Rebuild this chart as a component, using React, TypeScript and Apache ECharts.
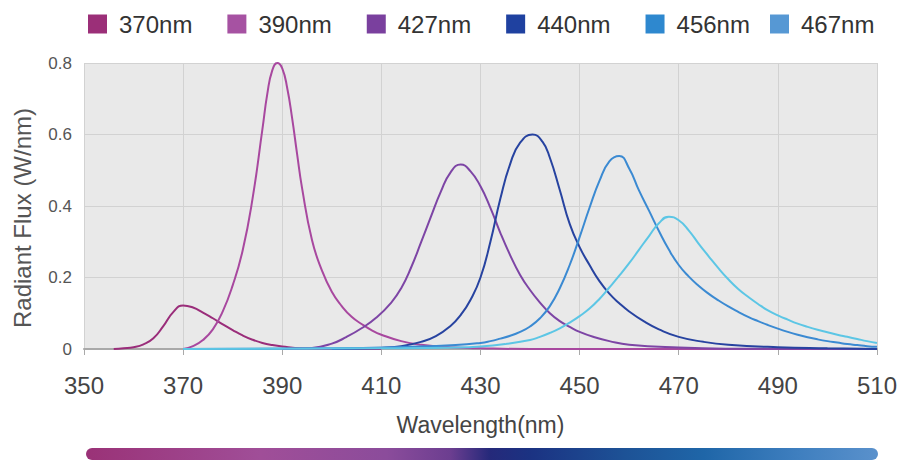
import React, { useEffect, useRef } from "react";
import * as echarts from "echarts";

const seriesNames = ["370nm", "390nm", "427nm", "440nm", "456nm", "467nm"];
const legendColors = ["#9b2f78", "#a652a2", "#7a409e", "#1f41a0", "#2e88cf", "#5698d4"];
const lineColors = ["#9a2d7a", "#a8489f", "#7d45a5", "#2743a0", "#3b8ad2", "#5cc6e5"];

const xTicks = [350, 370, 390, 410, 430, 450, 470, 490, 510];
const yTicks = [0, 0.2, 0.4, 0.6, 0.8];

const flux370: [number, number][] = [
  [356, 0], [358, 0.002], [360, 0.005], [362, 0.013], [364, 0.03], [366, 0.064],
  [368, 0.103], [370, 0.122], [372, 0.116], [374, 0.102], [376, 0.086], [378, 0.069],
  [380, 0.053], [382, 0.038], [384, 0.026], [386, 0.017], [388, 0.011], [390, 0.007],
  [394, 0.002], [400, 0], [410, 0],
];

const flux390: [number, number][] = [
  [370, 0], [372, 0.008], [374, 0.025], [376, 0.055], [378, 0.105], [380, 0.178],
  [382, 0.275], [384, 0.42], [386, 0.615], [387, 0.715], [388, 0.78], [389, 0.8],
  [390, 0.785], [391, 0.73], [392, 0.645], [393, 0.545], [394, 0.45], [396, 0.305],
  [398, 0.22], [400, 0.16], [402, 0.12], [404, 0.09], [406, 0.07], [408, 0.053],
  [410, 0.04], [414, 0.022], [418, 0.012], [424, 0.005], [430, 0.002], [440, 0],
  [510, 0],
];

const flux427: [number, number][] = [
  [390, 0], [396, 0.003], [400, 0.015], [403, 0.034], [406, 0.058], [409, 0.088],
  [412, 0.13], [414, 0.17], [416, 0.228], [418, 0.298], [420, 0.37], [422, 0.44],
  [424, 0.495], [426, 0.516], [428, 0.497], [430, 0.455], [432, 0.395], [434, 0.325],
  [436, 0.262], [438, 0.207], [440, 0.165], [442, 0.13], [444, 0.1], [446, 0.078],
  [448, 0.062], [450, 0.048], [453, 0.033], [456, 0.022], [460, 0.012], [470, 0.004],
  [480, 0.001], [510, 0],
];

const flux440: [number, number][] = [
  [400, 0], [410, 0.003], [414, 0.008], [418, 0.02], [421, 0.036], [424, 0.065],
  [426, 0.095], [428, 0.138], [430, 0.2], [432, 0.3], [434, 0.42], [436, 0.518],
  [438, 0.577], [440.5, 0.6], [442.5, 0.58], [444, 0.535], [446, 0.445], [448, 0.35],
  [450, 0.285], [452, 0.235], [454, 0.19], [456, 0.155], [458, 0.128], [460, 0.105],
  [463, 0.077], [466, 0.055], [470, 0.034], [475, 0.02], [480, 0.012], [490, 0.005],
  [500, 0.002], [510, 0],
];

const flux456: [number, number][] = [
  [370, 0], [400, 0.002], [415, 0.006], [425, 0.011], [430, 0.017], [432, 0.022],
  [434, 0.029], [436, 0.037], [438, 0.048], [440, 0.063], [442, 0.086], [444, 0.12],
  [446, 0.17], [448, 0.235], [450, 0.313], [452, 0.395], [454, 0.47], [456, 0.525],
  [458, 0.54], [460, 0.505], [462, 0.443], [464, 0.387], [466, 0.33], [468, 0.278],
  [470, 0.235], [472, 0.203], [474, 0.177], [476, 0.155], [478, 0.136], [480, 0.119],
  [482, 0.104], [484, 0.09], [486, 0.078], [488, 0.067], [490, 0.057], [492, 0.048],
  [494, 0.04], [496, 0.033], [498, 0.027], [500, 0.022], [502, 0.018], [504, 0.014],
  [506, 0.011], [508, 0.008], [510, 0.006],
];

const flux467: [number, number][] = [
  [370, 0], [410, 0.002], [425, 0.004], [430, 0.007], [435, 0.014], [440, 0.025],
  [442, 0.034], [444, 0.045], [446, 0.058], [448, 0.074], [450, 0.092], [452, 0.113],
  [454, 0.14], [456, 0.172], [458, 0.205], [460, 0.24], [462, 0.278], [464, 0.316],
  [466, 0.352], [468, 0.37], [470, 0.36], [472, 0.332], [474, 0.295], [476, 0.26],
  [478, 0.226], [480, 0.195], [482, 0.168], [484, 0.146], [486, 0.126], [488, 0.108],
  [490, 0.094], [492, 0.082], [494, 0.071], [496, 0.062], [498, 0.054], [500, 0.047],
  [502, 0.04], [504, 0.034], [506, 0.028], [508, 0.022], [510, 0.017],
];

const allFlux = [flux370, flux390, flux427, flux440, flux456, flux467];

const barStops = [
  { offset: 0, color: "#9a3277" },
  { offset: 0.22, color: "#a04e98" },
  { offset: 0.38, color: "#8b4c9b" },
  { offset: 0.46, color: "#6c3e90" },
  { offset: 0.51, color: "#25297a" },
  { offset: 0.56, color: "#1b3282" },
  { offset: 0.68, color: "#1d5296" },
  { offset: 0.78, color: "#1f66a8" },
  { offset: 0.9, color: "#3f7fbf" },
  { offset: 1, color: "#5a91cc" },
];

export default function App() {
  const ref = useRef<HTMLDivElement>(null);

  useEffect(() => {
    document.body.style.margin = "0";
    if (!ref.current) return;
    const chart = echarts.init(ref.current, null, { renderer: "svg" });
    const font = "'Liberation Sans', Arial, Helvetica, sans-serif";
    const legendBase = {
      top: 12,
      padding: 0,
      itemWidth: 19,
      itemHeight: 19,
      icon: "rect",
      textStyle: { fontSize: 24, color: "#333", padding: [0, 0, 0, 7], fontFamily: font },
    };
    chart.setOption({
      animation: false,
      textStyle: { fontFamily: font },
      legend: [
        { ...legendBase, left: 88, itemGap: 35, data: seriesNames.slice(0, 5) },
        { ...legendBase, left: 770, data: seriesNames.slice(5) },
      ],
      grid: {
        left: 84,
        right: 22,
        top: 63,
        bottom: 111,
        show: true,
        backgroundColor: "#e9e9e9",
        borderWidth: 0,
      },
      xAxis: {
        type: "value",
        min: xTicks[0],
        max: xTicks[xTicks.length - 1],
        interval: xTicks[1] - xTicks[0],
        name: "Wavelength(nm)",
        nameLocation: "middle",
        nameGap: 64,
        nameTextStyle: { fontSize: 23, color: "#444", fontFamily: font },
        axisLine: { show: true, lineStyle: { color: "#a9a9a9", width: 2 } },
        axisTick: { show: true, length: 6, lineStyle: { color: "#a9a9a9", width: 1 } },
        axisLabel: { fontSize: 24, color: "#444", margin: 24, fontFamily: font },
        splitLine: { show: true, lineStyle: { color: "#d2d2d2", width: 1 } },
      },
      yAxis: {
        type: "value",
        min: yTicks[0],
        max: yTicks[yTicks.length - 1],
        interval: 0.2,
        name: "Radiant Flux (W/nm)",
        nameLocation: "middle",
        nameGap: 50,
        nameTextStyle: { fontSize: 24, color: "#555", padding: [0, 24, 0, 0], fontFamily: font },
        axisLine: { show: false },
        axisTick: { show: false },
        axisLabel: {
          fontSize: 17,
          color: "#555",
          margin: 12,
          fontFamily: font,
          formatter: (v: number) => (v === 0 ? "0" : v.toFixed(1)),
        },
        splitLine: { show: true, lineStyle: { color: "#d2d2d2", width: 1 } },
      },
      series: allFlux.map((d, i) => ({
        name: seriesNames[i],
        type: "line",
        data: d,
        smooth: 0.5,
        showSymbol: false,
        symbol: "none",
        itemStyle: { color: legendColors[i] },
        lineStyle: { color: lineColors[i], width: 2 },
      })),
      graphic: [
        {
          type: "rect",
          shape: { x: 86, y: 448, width: 792, height: 12, r: 6 },
          style: { fill: new echarts.graphic.LinearGradient(0, 0, 1, 0, barStops) },
        },
      ],
    });
    return () => chart.dispose();
  }, []);

  return <div ref={ref} style={{ width: 900, height: 460 }} />;
}
